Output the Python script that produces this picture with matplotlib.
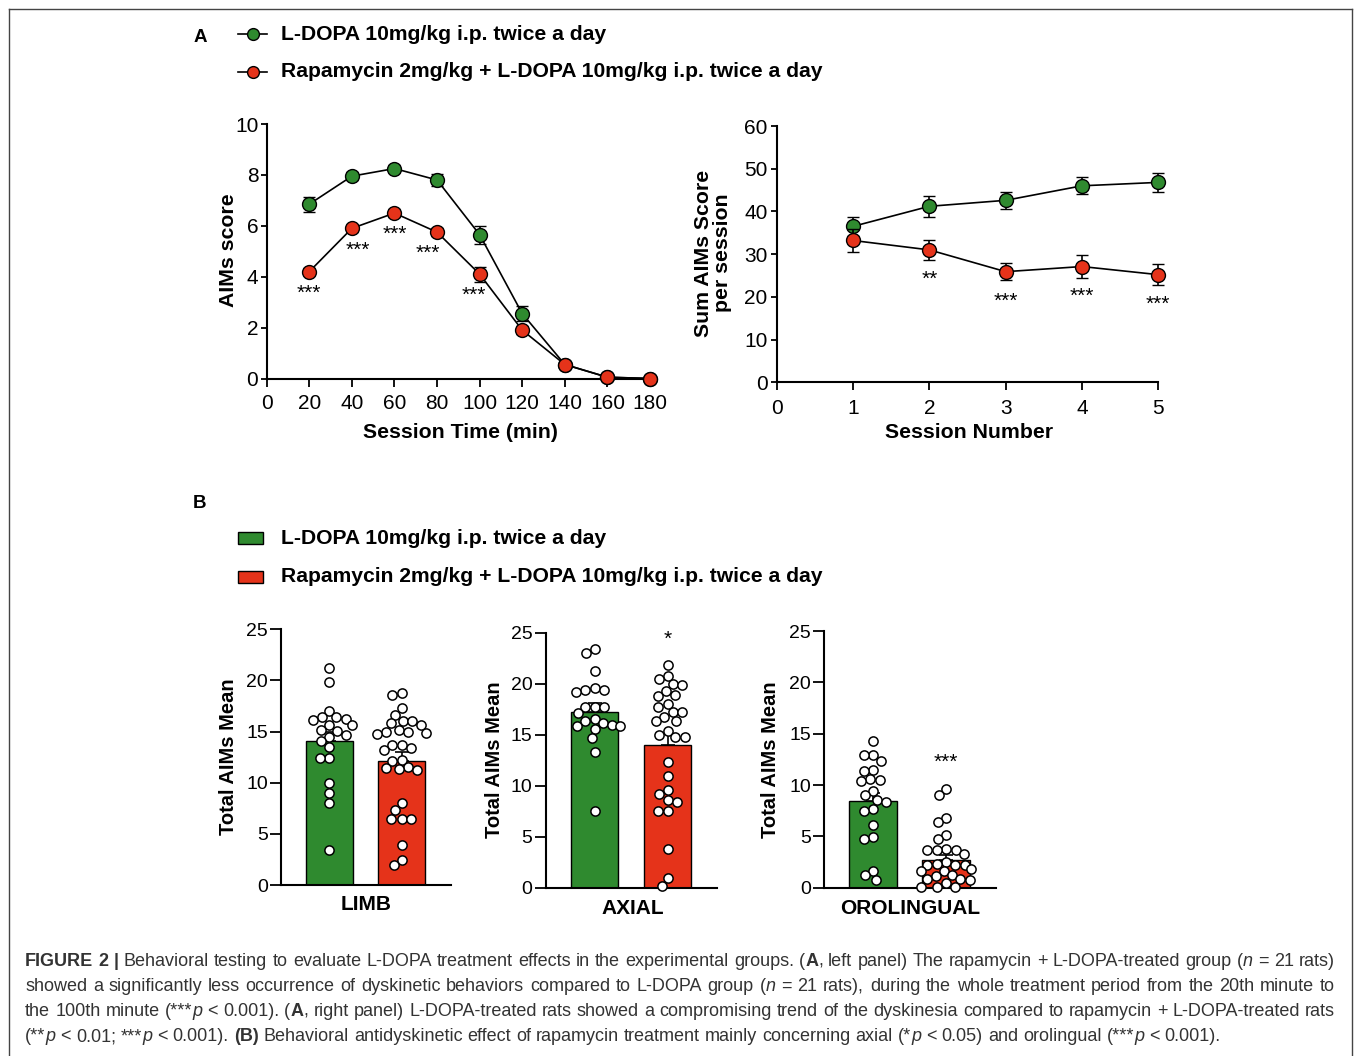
import numpy as np
import matplotlib
matplotlib.use('Agg')
import matplotlib.pyplot as plt
from matplotlib.lines import Line2D
from matplotlib.patches import Rectangle

# ------------------------------------------------------------------ data
time_min = [20, 40, 60, 80, 100, 120, 140, 160, 180]
ldopa_time_mean = [6.85, 7.95, 8.25, 7.8, 5.65, 2.55, 0.55, 0.05, 0.0]
ldopa_time_sem = [0.3, 0.15, 0.15, 0.25, 0.35, 0.3, 0.05, 0.03, 0.0]
rapa_time_mean = [4.2, 5.9, 6.5, 5.75, 4.1, 1.9, 0.55, 0.05, 0.0]
rapa_time_sem = [0.15, 0.15, 0.15, 0.15, 0.3, 0.15, 0.05, 0.03, 0.0]
time_sig = ['***', '***', '***', '***', '***', '', '', '', '']

sessions = [1, 2, 3, 4, 5]
ldopa_sess_mean = [36.5, 41.2, 42.6, 46.0, 46.8]
ldopa_sess_sem = [2.3, 2.4, 2.0, 2.0, 2.2]
rapa_sess_mean = [33.2, 31.0, 25.9, 27.1, 25.2]
rapa_sess_sem = [2.7, 2.3, 2.0, 2.6, 2.5]
sess_sig = ['', '**', '***', '***', '***']

aims_categories = ['LIMB', 'AXIAL', 'OROLINGUAL']
ldopa_bar_mean = [14.1, 17.2, 8.4]
ldopa_bar_sem = [0.9, 0.9, 0.85]
rapa_bar_mean = [12.1, 14.0, 2.7]
rapa_bar_sem = [0.9, 1.1, 0.45]
bar_sig = ['', '*', '***']

ldopa_limb = [21.25, 19.8, 17.05, 16.45, 16.4, 16.25, 16.1, 15.65, 15.6, 15.2, 15.1,
              14.7, 14.45, 14.1, 13.5, 12.4, 12.4, 10.0, 9.0, 8.0, 3.4]
rapa_limb = [18.8, 18.6, 17.3, 16.6, 16.0, 16.0, 15.8, 15.6, 15.15, 15.0, 15.0, 14.85,
             14.8, 13.7, 13.7, 13.4, 13.2, 12.2, 12.1, 11.5, 11.4, 11.3, 11.25, 8.0,
             7.3, 6.5, 6.5, 6.5, 3.9, 2.45, 1.95]
ldopa_axial = [23.45, 23.0, 21.2, 19.55, 19.35, 19.35, 19.2, 17.75, 17.75, 17.75, 17.15,
               16.55, 16.3, 16.1, 15.95, 15.9, 15.9, 15.6, 14.7, 13.35, 7.5]
rapa_axial = [21.8, 20.8, 20.45, 20.0, 19.9, 19.3, 18.9, 18.8, 18.0, 17.75, 17.2, 17.2,
              16.75, 16.35, 16.3, 15.35, 15.0, 14.8, 14.8, 12.35, 11.0, 9.6, 9.15, 8.55,
              8.45, 7.55, 7.55, 3.8, 0.98, 0.2]
ldopa_oro = [14.25, 12.95, 12.9, 12.37, 11.46, 11.36, 10.58, 10.45, 10.36, 9.38, 8.99,
             8.54, 8.35, 7.7, 7.5, 6.1, 4.97, 4.77, 1.62, 1.2, 0.75]
rapa_oro = [9.64, 9.0, 6.8, 6.4, 5.16, 4.74, 3.73, 3.67, 3.67, 3.67, 3.28, 2.5, 2.2, 2.2,
            2.2, 2.27, 1.79, 1.59, 1.66, 1.2, 1.14, 0.81, 0.81, 0.75, 0.42, 0.1, 0.1, 0.1]

ldopa_points = [ldopa_limb, ldopa_axial, ldopa_oro]
rapa_points = [rapa_limb, rapa_axial, rapa_oro]

legend_ldopa = 'L-DOPA 10mg/kg i.p. twice a day'
legend_rapa = 'Rapamycin 2mg/kg + L-DOPA 10mg/kg i.p. twice a day'

# ------------------------------------------------------------------ style
plt.rcParams['font.family'] = ['Liberation Sans', 'DejaVu Sans']
GREEN = '#2f8a2f'
RED = '#e5331a'
W, H = 1354, 1056
fig = plt.figure(figsize=(W / 100, H / 100), dpi=100)
fig.patch.set_facecolor('white')


def fx(px):
    return px / W


def fy(py):
    return 1 - py / H


def axes_px(l, t, r, b):
    return fig.add_axes([l / W, 1 - b / H, (r - l) / W, (b - t) / H])


def style_axes(ax, tick_len_x, tick_len_y, lsize, padx, pady):
    for s in ['top', 'right']:
        ax.spines[s].set_visible(False)
    for s in ['left', 'bottom']:
        ax.spines[s].set_linewidth(1.5)
    ax.tick_params(axis='x', direction='out', length=tick_len_x, width=1.3,
                   labelsize=lsize, pad=padx)
    ax.tick_params(axis='y', direction='out', length=tick_len_y, width=1.3,
                   labelsize=lsize, pad=pady)


# border frame
for xs, ys in [([8.5, 8.5], [8.5, H]), ([8.5, 1351.5], [8.5, 8.5]), ([1351.5, 1351.5], [8.5, H])]:
    fig.add_artist(Line2D([fx(x) for x in xs], [fy(y) for y in ys], color='#444444', lw=1.0))

# ------------------------------------------------------------------ legends
fig.text(fx(200), fy(37), 'A', fontsize=13.5, fontweight='bold', ha='center', va='center')
for yy, col, lab in [(34, GREEN, legend_ldopa), (72, RED, legend_rapa)]:
    fig.add_artist(Line2D([fx(238), fx(267)], [fy(yy), fy(yy)], color='black', lw=1.2))
    fig.add_artist(Line2D([fx(252.5)], [fy(yy)], marker='o', markersize=8.5,
                          markerfacecolor=col, markeredgecolor='black', markeredgewidth=1.0))
    fig.text(fx(281), fy(yy), lab, fontsize=15.2, fontweight='bold', ha='left', va='center')

fig.text(fx(200), fy(504), 'B', fontsize=13.5, fontweight='bold', ha='center', va='center')
for yy, col, lab in [(538, GREEN, legend_ldopa), (577, RED, legend_rapa)]:
    fig.add_artist(Rectangle((fx(238), fy(yy + 6)), (263 - 238) / W, 12 / H,
                             facecolor=col, edgecolor='black', lw=1.0))
    fig.text(fx(281), fy(yy), lab, fontsize=15.2, fontweight='bold', ha='left', va='center')

# ------------------------------------------------------------------ A left
ax1 = axes_px(266.7, 124, 650, 378.5)
ax1.errorbar(time_min, ldopa_time_mean, yerr=ldopa_time_sem, fmt='-o', color='black',
             lw=1.2, ecolor='black', elinewidth=1.2, capsize=4.5, capthick=1.2,
             markersize=10, markerfacecolor=GREEN, markeredgecolor='black',
             markeredgewidth=1.0, zorder=3, clip_on=False)
ax1.errorbar(time_min, rapa_time_mean, yerr=rapa_time_sem, fmt='-o', color='black',
             lw=1.2, ecolor='black', elinewidth=1.2, capsize=4.5, capthick=1.2,
             markersize=10, markerfacecolor=RED, markeredgecolor='black',
             markeredgewidth=1.0, zorder=4, clip_on=False)
star_dx = [0, 6, 0, -9, -6, 0, 0, 0, 0]
for x, m, s, dx in zip(time_min, rapa_time_mean, time_sig, star_dx):
    if s:
        ax1.annotate(s, (x, m), xytext=(dx * 0.72, -27 * 0.72), textcoords='offset points',
                     ha='center', va='baseline', fontsize=15)
ax1.set_xlim(0, 180)
ax1.set_ylim(0, 10)
ax1.set_xticks(np.arange(0, 181, 20))
ax1.set_yticks(np.arange(0, 11, 2))
style_axes(ax1, 5.5, 4.5, 15, 5.5, 1.5)
fig.text(fx(460), fy(432), 'Session Time (min)', fontsize=15.3, fontweight='bold',
         ha='center', va='center')
fig.text(fx(229), fy(250), 'AIMs score', fontsize=15.3, fontweight='bold',
         ha='center', va='center', rotation=90)

# ------------------------------------------------------------------ A right
ax2 = axes_px(776.7, 126, 1158.3, 382.3)
ax2.errorbar(sessions, ldopa_sess_mean, yerr=ldopa_sess_sem, fmt='-o', color='black',
             lw=1.2, ecolor='black', elinewidth=1.2, capsize=4.5, capthick=1.2,
             markersize=10, markerfacecolor=GREEN, markeredgecolor='black',
             markeredgewidth=1.0, zorder=3, clip_on=False)
ax2.errorbar(sessions, rapa_sess_mean, yerr=rapa_sess_sem, fmt='-o', color='black',
             lw=1.2, ecolor='black', elinewidth=1.2, capsize=4.5, capthick=1.2,
             markersize=10, markerfacecolor=RED, markeredgecolor='black',
             markeredgewidth=1.0, zorder=4, clip_on=False)
for x, m, s in zip(sessions, rapa_sess_mean, sess_sig):
    if s:
        ax2.annotate(s, (x, m), xytext=(0, -35 * 0.72), textcoords='offset points',
                     ha='center', va='baseline', fontsize=15)
ax2.set_xlim(0, 5)
ax2.set_ylim(0, 60)
ax2.set_xticks(range(0, 6))
ax2.set_yticks(np.arange(0, 61, 10))
style_axes(ax2, 5.5, 4.5, 15, 6.5, 2)
fig.text(fx(969), fy(432), 'Session Number', fontsize=15.3, fontweight='bold',
         ha='center', va='center')
fig.text(fx(713), fy(253), 'Sum AIMs Score\nper session', fontsize=15.3, fontweight='bold',
         ha='center', va='center', rotation=90, multialignment='center', linespacing=1.0)


# ------------------------------------------------------------------ B panels
def swarm(values, sx, sy, d, cap):
    """Beeswarm offsets (data units); points stay within +/- cap pixels."""
    vals = np.asarray(values, dtype=float)
    order = np.argsort(-vals, kind='stable')
    placed = []
    offs = np.zeros(len(vals))
    grid = np.linspace(-cap, cap, 41)
    for i in order:
        y = vals[i] * sy
        intervals = []
        for (px, py) in placed:
            dy = abs(py - y)
            if dy < d:
                h = np.sqrt(d * d - dy * dy)
                intervals.append((px - h, px + h))
        cands = [0.0] + [a for a, b in intervals] + [b for a, b in intervals]
        cands = [c for c in cands if abs(c) <= cap + 1e-6]
        cands.sort(key=lambda c: (round(abs(c), 6), c))
        xsel = None
        for c in cands:
            if all(not (a + 1e-6 < c < b - 1e-6) for a, b in intervals):
                xsel = c
                break
        if xsel is None:
            best, bestd = 0.0, -1.0
            for g in grid:
                md = min(np.hypot(g - px, y - py) for (px, py) in placed)
                if md > bestd + 1e-6:
                    best, bestd = g, md
            xsel = best
        placed.append((xsel, y))
        offs[i] = xsel / sx
    return offs


panel_boxes = [(281, 629.3, 450.7, 885), (545.7, 632.7, 717.3, 887.7), (824.3, 631, 995.7, 887.7)]
ylabel_pos = [(228, 757), (494, 760), (771, 760)]
xlabel_pos = [(366, 905), (633, 909), (910, 908)]
XL = (-0.67, 1.68)
for k, cat in enumerate(aims_categories):
    l, t, r, b = panel_boxes[k]
    ax = axes_px(l, t, r, b)
    ax.bar([0, 1], [ldopa_bar_mean[k], rapa_bar_mean[k]], width=0.65,
           color=[GREEN, RED], edgecolor='black', linewidth=1.0, zorder=2)
    ax.errorbar([0, 1], [ldopa_bar_mean[k], rapa_bar_mean[k]],
                yerr=[[0, 0], [ldopa_bar_sem[k], rapa_bar_sem[k]]], fmt='none',
                ecolor='black', elinewidth=1.2, capsize=5, capthick=1.2, zorder=3)
    sx = (r - l) / (XL[1] - XL[0])
    sy = (b - t) / 25.0
    for xc, pts in [(0, ldopa_points[k]), (1, rapa_points[k])]:
        offs = swarm(pts, sx, sy, 9.5, 25.0)
        ax.scatter(xc + offs, pts, s=44, facecolor='white', edgecolor='black',
                   linewidths=1.1, zorder=4, clip_on=False)
    if bar_sig[k]:
        ax.text(1, max(rapa_points[k]) + 2.0, bar_sig[k], ha='center', va='baseline',
                fontsize=15)
    ax.set_xlim(*XL)
    ax.set_ylim(0, 25)
    ax.set_yticks(np.arange(0, 26, 5))
    ax.set_xticks([])
    style_axes(ax, 0, 8, 14, 0, 1.5)
    fig.text(fx(ylabel_pos[k][0]), fy(ylabel_pos[k][1]), 'Total AIMs Mean', fontsize=14.5,
             fontweight='bold', ha='center', va='center', rotation=90)
    fig.text(fx(xlabel_pos[k][0]), fy(xlabel_pos[k][1]), cat, fontsize=15,
             fontweight='bold', ha='center', va='center')

# ------------------------------------------------------------------ caption
cap_lines = [
    [("FIGURE 2 |", "bold"),
     (" Behavioral testing to evaluate L-DOPA treatment effects in the experimental groups. (", "normal"),
     ("A", "bold"), (", left panel) The rapamycin + L-DOPA-treated group (", "normal"),
     ("n", "italic"), (" = 21 rats)", "normal")],
    [("showed a significantly less occurrence of dyskinetic behaviors compared to L-DOPA group (", "normal"),
     ("n", "italic"),
     (" = 21 rats), during the whole treatment period from the 20th minute to", "normal")],
    [("the 100th minute (***", "normal"), ("p", "italic"), (" < 0.001). (", "normal"),
     ("A", "bold"),
     (", right panel) L-DOPA-treated rats showed a compromising trend of the dyskinesia compared to rapamycin + L-DOPA-treated rats", "normal")],
    [("(**", "normal"), ("p", "italic"), (" < 0.01; ***", "normal"), ("p", "italic"),
     (" < 0.001). ", "normal"), ("(B)", "bold"),
     (" Behavioral antidyskinetic effect of rapamycin treatment mainly concerning axial (*", "normal"),
     ("p", "italic"), (" < 0.05) and orolingual (***", "normal"), ("p", "italic"),
     (" < 0.001).", "normal")],
]


def to_words(segs):
    words = [[]]
    for text, sty in segs:
        parts = text.split(' ')
        for i, p in enumerate(parts):
            if i > 0:
                words.append([])
            if p:
                words[-1].append((p, sty))
    return [w for w in words if w]


renderer = fig.canvas.get_renderer()
CAP_COL = '#333333'


def sty_kw(sty):
    if sty == 'bold':
        return dict(fontweight='bold', fontstyle='normal')
    if sty == 'italic':
        return dict(fontweight='normal', fontstyle='italic')
    return dict(fontweight='normal', fontstyle='normal')


def measure(text, sty, fs):
    t = fig.text(0, 0, text, fontsize=fs, **sty_kw(sty))
    w = t.get_window_extent(renderer).width
    t.remove()
    return w


def space_w(fs):
    return measure('a a', 'normal', fs) - measure('aa', 'normal', fs)


all_words = [to_words(s) for s in cap_lines]
fs0 = 12.0
lw4 = sum(measure(p, s, fs0) for w in all_words[3] for p, s in w) + space_w(fs0) * (len(all_words[3]) - 1)
cap_fs = fs0 * 1200.0 / lw4
sp = space_w(cap_fs)
x_left, x_right = 25.0, 1335.0
baselines = [966, 991, 1016, 1041]
for li, words in enumerate(all_words):
    widths = [[measure(p, s, cap_fs) for p, s in w] for w in words]
    total = sum(sum(ws) for ws in widths)
    if li < len(all_words) - 1:
        gap = max((x_right - x_left - total) / (len(words) - 1), sp * 0.6)
    else:
        gap = sp
    x = x_left
    for w, ws in zip(words, widths):
        for (p, s), pw in zip(w, ws):
            fig.text(fx(x), fy(baselines[li]), p, fontsize=cap_fs, color=CAP_COL,
                     ha='left', va='baseline', **sty_kw(s))
            x += pw
        x += gap

fig.savefig('out.png', dpi=100, facecolor='white')
